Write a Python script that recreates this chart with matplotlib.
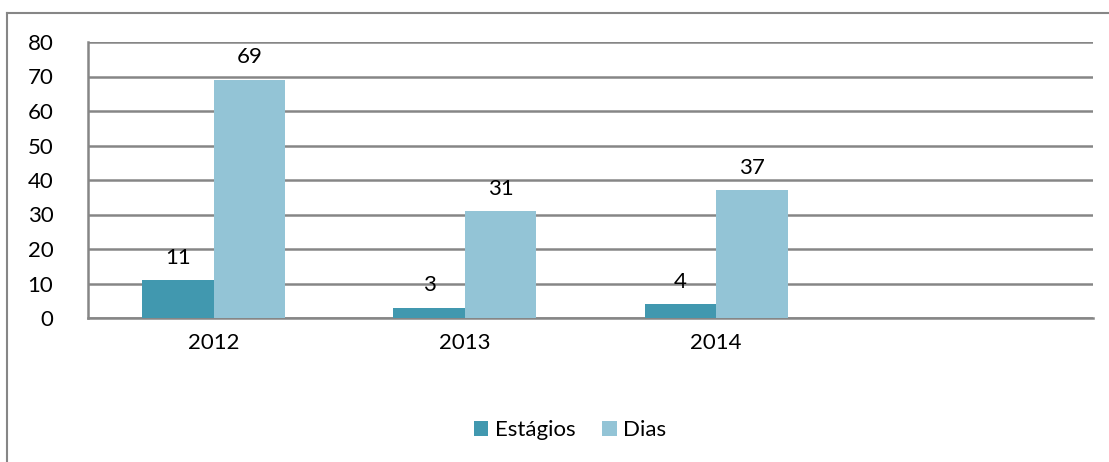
import matplotlib.pyplot as plt
from matplotlib.lines import Line2D

# Dados do gráfico
anos = ["2012", "2013", "2014", ""]
estagios = [11, 3, 4, None]
dias = [69, 31, 37, None]
y_ticks = [0, 10, 20, 30, 40, 50, 60, 70, 80]

cor_estagios = "#4198AF"
cor_dias = "#93C4D6"
cor_grade = "#868686"

plt.rcParams["font.family"] = ["Lato", "DejaVu Sans"]
tam = 16

fig = plt.figure(figsize=(11.09, 4.62), dpi=100)
ax = fig.add_axes([88 / 1109, 1 - 318 / 462, (1093 - 88) / 1109, (318 - 42) / 462])

largura = 0.285
x = list(range(len(anos)))
x_est = [i - largura / 2 for i, v in zip(x, estagios) if v is not None]
v_est = [v for v in estagios if v is not None]
x_dia = [i + largura / 2 for i, v in zip(x, dias) if v is not None]
v_dia = [v for v in dias if v is not None]

b1 = ax.bar(x_est, v_est, largura, color=cor_estagios, label="Estágios", zorder=3)
b2 = ax.bar(x_dia, v_dia, largura, color=cor_dias, label="Dias", zorder=3)

# Rótulos de valores
for barras in (b1, b2):
    ax.bar_label(barras, padding=9, fontsize=tam, color="#000000")

ax.set_xlim(-0.5, len(anos) - 0.5)
ax.set_ylim(0, 80)
ax.set_yticks(y_ticks)
ax.set_xticks(x)
ax.set_xticklabels(anos)
ax.tick_params(axis="both", length=0, labelsize=tam, colors="#000000")
ax.tick_params(axis="x", pad=11)
ax.tick_params(axis="y", pad=25)

ax.grid(axis="y", color=cor_grade, linewidth=1.8, zorder=0)
ax.set_axisbelow(True)
for lado in ("top", "right"):
    ax.spines[lado].set_visible(False)
ax.spines["left"].set_color(cor_grade)
ax.spines["left"].set_linewidth(1.8)
ax.spines["bottom"].set_color(cor_grade)
ax.spines["bottom"].set_linewidth(1.8)

fig.legend(handles=[b1, b2], loc="center", bbox_to_anchor=(570 / 1109, 1 - 430 / 462),
           ncol=2, frameon=False, fontsize=tam, handlelength=0.65, handleheight=0.65,
           handletextpad=0.3, columnspacing=1.2)

# Moldura externa (esquerda e topo)
fig.add_artist(Line2D([7 / 1109, 7 / 1109], [0, 1 - 13 / 462], transform=fig.transFigure,
                      color="#868686", linewidth=1.5))
fig.add_artist(Line2D([7 / 1109, 1], [1 - 13 / 462, 1 - 13 / 462], transform=fig.transFigure,
                      color="#868686", linewidth=1.5))

fig.savefig("out.png", dpi=100)
